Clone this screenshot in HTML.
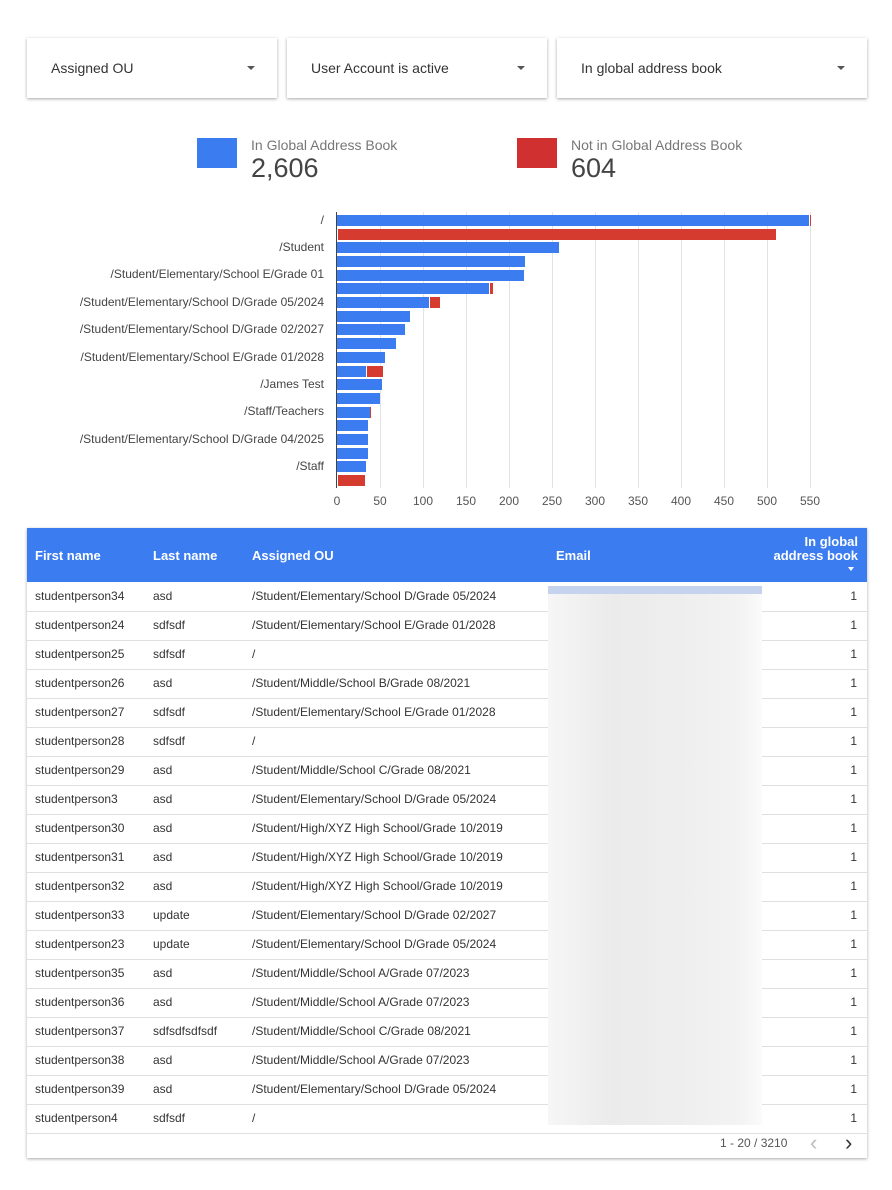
<!DOCTYPE html>
<html><head><style>
body{margin:0;background:#fff;font-family:"Liberation Sans",sans-serif;width:892px;height:1190px;position:relative;overflow:hidden}
.f{position:absolute;top:38px;height:60px;background:#fff;box-shadow:0 1px 3px rgba(0,0,0,.35);font-size:14px;color:#333}
.f span{position:absolute;left:24px;top:22px}
.f i{position:absolute;right:22px;top:28px;border-left:4px solid transparent;border-right:4px solid transparent;border-top:4px solid #555}
.a{position:absolute}
.lab{position:absolute;right:568px;font-size:12px;color:#444;white-space:nowrap}
.tk{position:absolute;top:494px;font-size:12px;color:#555;transform:translateX(-50%)}
.card{position:absolute;left:27px;top:528px;width:840px;height:630px;box-shadow:0 1px 3px rgba(0,0,0,.35);background:#fff}
.hd{position:absolute;left:0;top:0;width:840px;height:54px;background:#3b7cf0;color:#fff;font-weight:bold;font-size:13px}
.r{position:absolute;left:0;width:840px;height:29px;border-bottom:1px solid #e0e0e0;font-size:12px;color:#333}
.r span{position:absolute;top:7px}
</style></head><body>
<div class="f" style="left:27px;width:250px"><span>Assigned OU</span><i></i></div>
<div class="f" style="left:287px;width:260px"><span>User Account is active</span><i></i></div>
<div class="f" style="left:557px;width:310px"><span>In global address book</span><i></i></div>

<div class="a" style="left:197px;top:138px;width:40px;height:30px;background:#3b7cf0"></div>
<div class="a" style="left:251px;top:137px;font-size:14px;color:#777">In Global Address Book</div>
<div class="a" style="left:251px;top:153px;font-size:27px;color:#444">2,606</div>
<div class="a" style="left:517px;top:138px;width:40px;height:30px;background:#d0302f"></div>
<div class="a" style="left:571px;top:137px;font-size:14px;color:#777">Not in Global Address Book</div>
<div class="a" style="left:571px;top:153px;font-size:27px;color:#444">604</div>

<svg class="a" style="left:0;top:0" width="892" height="520">
<g stroke="#e3e3e3" stroke-width="1">
<line x1="380.5" y1="212" x2="380.5" y2="488"/><line x1="423.5" y1="212" x2="423.5" y2="488"/><line x1="466.5" y1="212" x2="466.5" y2="488"/><line x1="509.5" y1="212" x2="509.5" y2="488"/><line x1="552.5" y1="212" x2="552.5" y2="488"/><line x1="595.5" y1="212" x2="595.5" y2="488"/><line x1="638.5" y1="212" x2="638.5" y2="488"/><line x1="681.5" y1="212" x2="681.5" y2="488"/><line x1="724.5" y1="212" x2="724.5" y2="488"/><line x1="767.5" y1="212" x2="767.5" y2="488"/><line x1="810.5" y1="212" x2="810.5" y2="488"/>
</g>
<g fill="#3b7cf0">
<rect x="337" y="215" width="472" height="11"/>
<rect x="337" y="242" width="222" height="11"/>
<rect x="337" y="256" width="188" height="11"/>
<rect x="337" y="270" width="187" height="11"/>
<rect x="337" y="283" width="152" height="11"/>
<rect x="337" y="297" width="92" height="11"/>
<rect x="337" y="311" width="73" height="11"/>
<rect x="337" y="324" width="68" height="11"/>
<rect x="337" y="338" width="59" height="11"/>
<rect x="337" y="352" width="48" height="11"/>
<rect x="337" y="366" width="29" height="11"/>
<rect x="337" y="379" width="45" height="11"/>
<rect x="337" y="393" width="43" height="11"/>
<rect x="337" y="407" width="33" height="11"/>
<rect x="337" y="420" width="31" height="11"/>
<rect x="337" y="434" width="31" height="11"/>
<rect x="337" y="448" width="31" height="11"/>
<rect x="337" y="461" width="29" height="11"/>
</g>
<g fill="#d63b30">
<rect x="810" y="215" width="1" height="11"/>
<rect x="338" y="229" width="438" height="11"/>
<rect x="490" y="283" width="3" height="11"/>
<rect x="430" y="297" width="10" height="11"/>
<rect x="367" y="366" width="16" height="11"/>
<rect x="370" y="407" width="1" height="11"/>
<rect x="338" y="475" width="27" height="11"/>
</g>
<line x1="336.5" y1="212" x2="336.5" y2="488" stroke="#444"/>
</svg>
<div class="lab" style="top:213px">/</div>
<div class="lab" style="top:240px">/Student</div>
<div class="lab" style="top:267px">/Student/Elementary/School E/Grade 01</div>
<div class="lab" style="top:295px">/Student/Elementary/School D/Grade 05/2024</div>
<div class="lab" style="top:322px">/Student/Elementary/School D/Grade 02/2027</div>
<div class="lab" style="top:350px">/Student/Elementary/School E/Grade 01/2028</div>
<div class="lab" style="top:377px">/James Test</div>
<div class="lab" style="top:404px">/Staff/Teachers</div>
<div class="lab" style="top:432px">/Student/Elementary/School D/Grade 04/2025</div>
<div class="lab" style="top:459px">/Staff</div>
<div class="tk" style="left:337px">0</div><div class="tk" style="left:380px">50</div><div class="tk" style="left:423px">100</div><div class="tk" style="left:466px">150</div><div class="tk" style="left:509px">200</div><div class="tk" style="left:552px">250</div><div class="tk" style="left:595px">300</div><div class="tk" style="left:638px">350</div><div class="tk" style="left:681px">400</div><div class="tk" style="left:724px">450</div><div class="tk" style="left:767px">500</div><div class="tk" style="left:810px">550</div>

<div class="card">
<div class="hd">
<span class="a" style="left:8px;top:20px">First name</span>
<span class="a" style="left:126px;top:20px">Last name</span>
<span class="a" style="left:225px;top:20px">Assigned OU</span>
<span class="a" style="left:529px;top:20px">Email</span>
<span class="a" style="right:9px;top:7px;text-align:right;line-height:14px">In global<br>address book</span>
<span class="a" style="right:13px;top:39px;border-left:3px solid transparent;border-right:3px solid transparent;border-top:4px solid #fff"></span>
</div>
<div id="rows"></div>
<div class="a" style="left:521px;top:60px;width:214px;height:537px;background:linear-gradient(90deg,#f6f6f6,#ebebeb 30%,#eeeeee 60%,#f3f3f3 90%,#fbfbfb)"></div>
<div class="a" style="left:521px;top:58px;width:214px;height:8px;background:#c6d3ee"></div>
<div class="a" style="left:693px;top:608px;font-size:12px;color:#555">1 - 20 / 3210</div>
<div class="a" style="left:783px;top:602px;font-size:22px;color:#bbb">‹</div>
<div class="a" style="left:818px;top:602px;font-size:22px;color:#333">›</div>
</div>
<script>
var d=[["studentperson34","asd","/Student/Elementary/School D/Grade 05/2024"],["studentperson24","sdfsdf","/Student/Elementary/School E/Grade 01/2028"],["studentperson25","sdfsdf","/"],["studentperson26","asd","/Student/Middle/School B/Grade 08/2021"],["studentperson27","sdfsdf","/Student/Elementary/School E/Grade 01/2028"],["studentperson28","sdfsdf","/"],["studentperson29","asd","/Student/Middle/School C/Grade 08/2021"],["studentperson3","asd","/Student/Elementary/School D/Grade 05/2024"],["studentperson30","asd","/Student/High/XYZ High School/Grade 10/2019"],["studentperson31","asd","/Student/High/XYZ High School/Grade 10/2019"],["studentperson32","asd","/Student/High/XYZ High School/Grade 10/2019"],["studentperson33","update","/Student/Elementary/School D/Grade 02/2027"],["studentperson23","update","/Student/Elementary/School D/Grade 05/2024"],["studentperson35","asd","/Student/Middle/School A/Grade 07/2023"],["studentperson36","asd","/Student/Middle/School A/Grade 07/2023"],["studentperson37","sdfsdfsdfsdf","/Student/Middle/School C/Grade 08/2021"],["studentperson38","asd","/Student/Middle/School A/Grade 07/2023"],["studentperson39","asd","/Student/Elementary/School D/Grade 05/2024"],["studentperson4","sdfsdf","/"]];
var h="";d.forEach(function(r,i){h+='<div class="r" style="top:'+(54+i*29)+'px"><span style="left:8px">'+r[0]+'</span><span style="left:126px">'+r[1]+'</span><span style="left:225px">'+r[2]+'</span><span style="right:10px">1</span></div>';});
document.getElementById("rows").innerHTML=h;
</script>
</body></html>
